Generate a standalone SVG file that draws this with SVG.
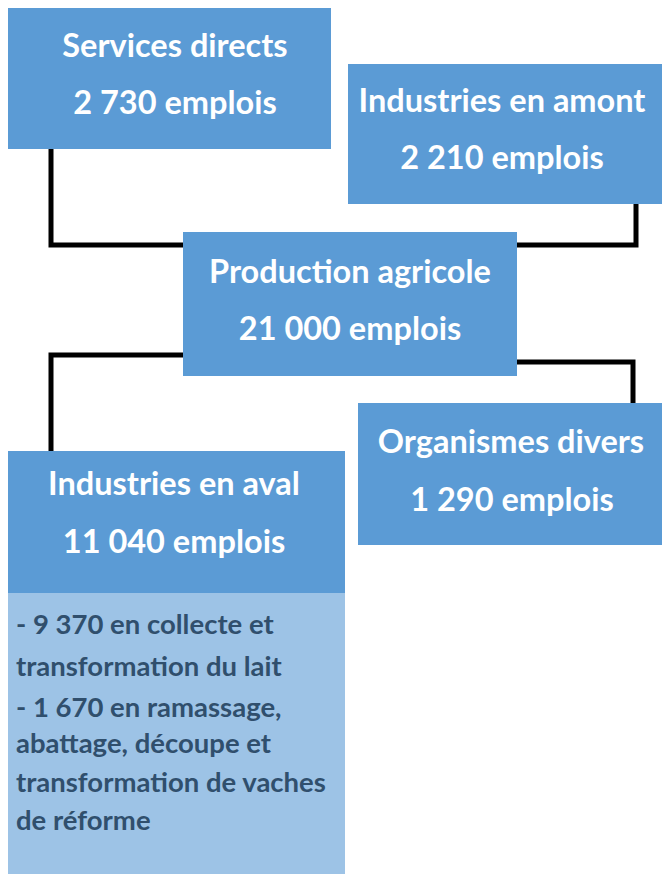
<svg xmlns="http://www.w3.org/2000/svg" width="662" height="874" viewBox="0 0 662 874">
<style>
.box{fill:#5B9BD5}
.sub{fill:#9DC3E6}
.t{font-family:Lato,"Open Sans","Liberation Sans",sans-serif;font-weight:bold;font-size:32.5px;fill:#ffffff;text-anchor:middle}
.s{font-family:Lato,"Open Sans","Liberation Sans",sans-serif;font-weight:bold;font-size:27.5px;fill:#304F6D}
.c{fill:none;stroke:#000000;stroke-width:5}
</style>
<rect width="662" height="874" fill="#ffffff"/>
<g id="connectors">
<path class="c" d="M51,149 V245 H183"/>
<path class="c" d="M636,204 V245 H517"/>
<path class="c" d="M183,355 H51 V451"/>
<path class="c" d="M517,362 H633 V403"/>
</g>
<g id="services-directs">
<rect class="box" x="8" y="8" width="323" height="141"/>
<text class="t" x="175" y="57">Services directs</text>
<text class="t" x="175" y="114">2 730 emplois</text>
</g>
<g id="industries-amont">
<rect class="box" x="348" y="64" width="314" height="140"/>
<text class="t" x="502" y="112">Industries en amont</text>
<text class="t" x="502" y="169">2 210 emplois</text>
</g>
<g id="production-agricole">
<rect class="box" x="183" y="232" width="334" height="144"/>
<text class="t" x="350" y="283">Production agricole</text>
<text class="t" x="350" y="340">21 000 emplois</text>
</g>
<g id="organismes-divers">
<rect class="box" x="358" y="403" width="304" height="142"/>
<text class="t" x="511" y="453">Organismes divers</text>
<text class="t" x="512" y="511">1 290 emplois</text>
</g>
<g id="industries-aval">
<rect class="box" x="8" y="451" width="337" height="142"/>
<text class="t" x="174" y="495">Industries en aval</text>
<text class="t" x="174" y="553">11 040 emplois</text>
<rect class="sub" x="8" y="593" width="337" height="281"/>
<text class="s" x="16" y="634">- 9 370 en collecte et</text>
<text class="s" x="16" y="676">transformation du lait</text>
<text class="s" x="16" y="717">- 1 670 en ramassage,</text>
<text class="s" x="16" y="753">abattage, découpe et</text>
<text class="s" x="16" y="792">transformation de vaches</text>
<text class="s" x="16" y="830">de réforme</text>
</g>
</svg>
